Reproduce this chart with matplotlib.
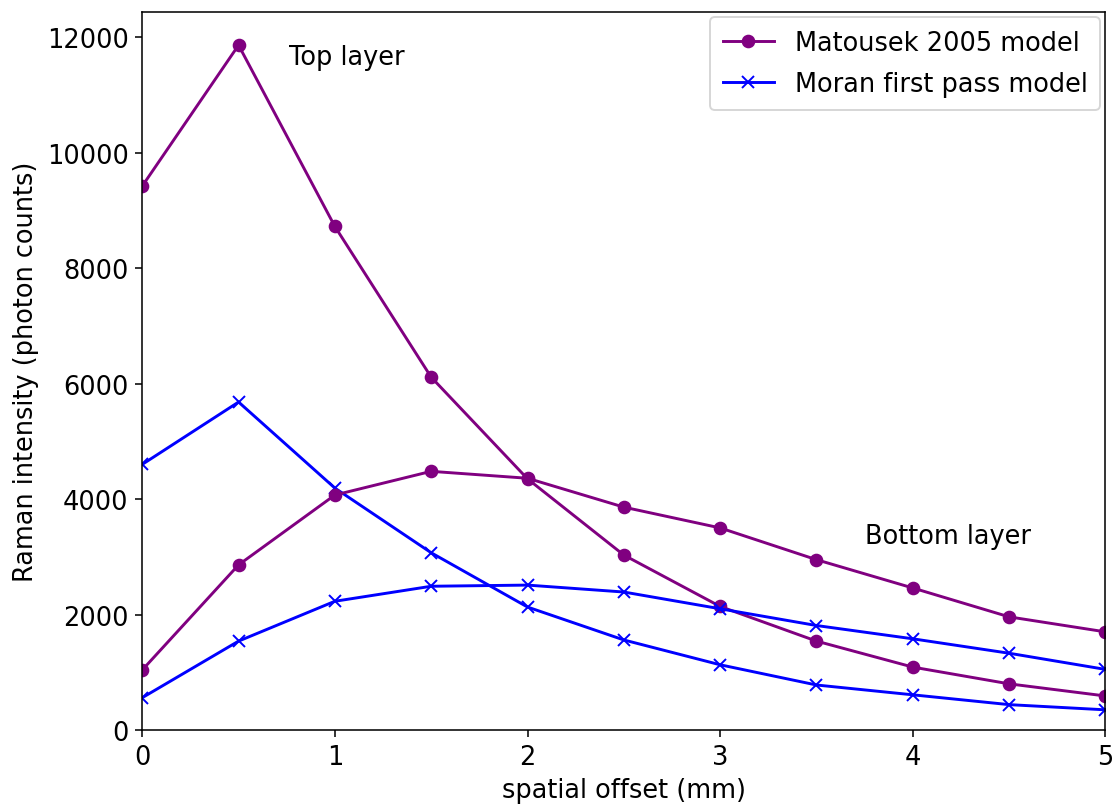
import numpy as np
import matplotlib
matplotlib.use('Agg')
import matplotlib.pyplot as plt

# spatial offsets (mm)
offset = [0, 0.5, 1, 1.5, 2, 2.5, 3, 3.5, 4, 4.5, 5]

# Matousek 2005 model
mat_top = [9420, 11860, 8720, 6110, 4350, 3030, 2140, 1540, 1090, 800, 590]
mat_bottom = [1040, 2860, 4070, 4480, 4360, 3860, 3500, 2950, 2460, 1960, 1700]

# Moran first pass model
mor_top = [4600, 5680, 4190, 3070, 2130, 1560, 1130, 780, 610, 440, 350]
mor_bottom = [560, 1540, 2230, 2490, 2510, 2390, 2100, 1810, 1580, 1330, 1050]

plt.rcParams['font.size'] = 13.2

fig = plt.figure(figsize=(8, 5.757), dpi=140)
ax = fig.add_subplot(111)
fig.subplots_adjust(left=0.127, right=0.987, top=0.984, bottom=0.093)

ax.plot(offset, mat_top, '-o', color='purple', label='Matousek 2005 model')
ax.plot(offset, mor_top, '-x', color='blue', label='Moran first pass model')
ax.plot(offset, mat_bottom, '-o', color='purple')
ax.plot(offset, mor_bottom, '-x', color='blue')

ax.text(0.76, 11650, 'Top layer', va='center')
ax.text(3.75, 3360, 'Bottom layer', va='center')

ax.set_xlim(0, 5)
ax.set_ylim(bottom=0)
ax.set_xlabel('spatial offset (mm)')
ax.set_ylabel('Raman intensity (photon counts)')
ax.legend(loc='upper right', borderaxespad=0.2, labelspacing=0.6, borderpad=0.5)

fig.savefig('out.png', dpi=140)
